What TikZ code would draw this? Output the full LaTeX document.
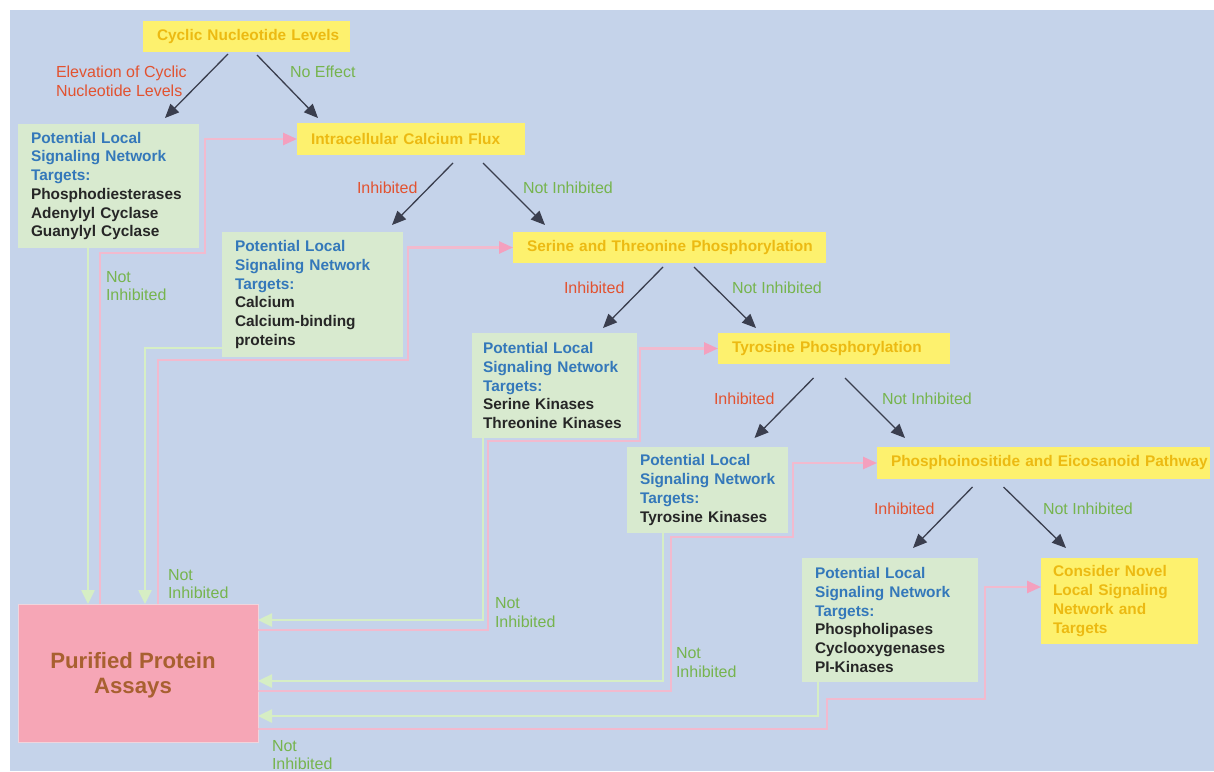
\documentclass[tikz,border=0pt]{standalone}
\usepackage{fontspec}
\setmainfont{Liberation Sans}
\usetikzlibrary{arrows.meta}
\hyphenpenalty=10000
\exhyphenpenalty=10000
\definecolor{bgc}{RGB}{197,211,234}
\definecolor{yfill}{RGB}{253,241,110}
\definecolor{ytext}{RGB}{236,186,18}
\definecolor{gfill}{RGB}{216,234,207}
\definecolor{btext}{RGB}{52,120,186}
\definecolor{ktext}{RGB}{38,38,38}
\definecolor{rlab}{RGB}{226,82,48}
\definecolor{glab}{RGB}{118,180,78}
\definecolor{pfill}{RGB}{246,166,182}
\definecolor{pedge}{RGB}{240,212,220}
\definecolor{ptext}{RGB}{168,96,48}
\definecolor{plinec}{RGB}{242,186,206}
\definecolor{ptipc}{RGB}{244,160,190}
\definecolor{glinec}{RGB}{214,238,196}
\definecolor{darkc}{RGB}{58,62,78}
\begin{document}
\begin{tikzpicture}[x=1pt,y=-1pt,
  every node/.style={outer sep=0pt},
  ybox/.style={fill=yfill, anchor=north west, inner xsep=14pt, inner ysep=0pt, align=left,
    font=\bfseries\fontsize{15.4}{18.7}\selectfont, text=ytext},
  gbox/.style={fill=gfill, anchor=north west, inner xsep=13pt, inner ysep=0pt, align=left,
    font=\bfseries\fontsize{15.4}{18.7}\selectfont, text=ktext},
  lab/.style={anchor=west, inner sep=0pt, align=left, font=\fontsize{16}{18.7}\selectfont},
  redlab/.style={lab, text=rlab},
  greenlab/.style={lab, text=glab},
  darr/.style={draw=darkc, line width=1.3pt, -{Triangle[length=14pt,width=12pt]}},
  gcon/.style={draw=glinec, line width=2.5pt, -{Triangle[length=14pt,width=13pt]}},
  pcon/.style={draw=plinec, line width=2.5pt, -{Triangle[length=14pt,width=12pt,color=ptipc]}}
]
\useasboundingbox (0,0) rectangle (1214,771);
\fill[white] (0,0) rectangle (1214,771);
\fill[bgc] (10,10) rectangle (1214,771);

% yellow decision boxes
\node[ybox, minimum width=207pt, minimum height=31pt, text width=179pt] (Cyc) at (143,21) {\mbox{Cyclic Nucleotide Levels}};
\node[ybox, minimum width=228pt, minimum height=32pt, text width=200pt] (F1) at (297,123) {\mbox{Intracellular Calcium Flux}};
\node[ybox, minimum width=313pt, minimum height=31pt, text width=285pt] (F2) at (513,232) {\mbox{Serine and Threonine Phosphorylation}};
\node[ybox, minimum width=232pt, minimum height=31pt, text width=204pt] (F3) at (718,333) {\mbox{Tyrosine Phosphorylation}};
\node[ybox, minimum width=333pt, minimum height=32pt, text width=305pt] (F4) at (877,447) {\mbox{Phosphoinositide and Eicosanoid Pathway}};
\node[ybox, inner xsep=12pt, minimum width=157pt, minimum height=86pt, text width=133pt] (N) at (1041,558)
  {\mbox{Consider Novel}\\\mbox{Local Signaling}\\\mbox{Network and}\\Targets};

% green target boxes
\node[gbox, minimum width=181pt, minimum height=124pt, text width=155pt] (A) at (18,124)
  {\textcolor{btext}{\mbox{Potential Local}}\\\textcolor{btext}{\mbox{Signaling Network}}\\\textcolor{btext}{Targets:}\\\mbox{Phosphodiesterases}\\\mbox{Adenylyl Cyclase}\\\mbox{Guanylyl Cyclase}};
\node[gbox, minimum width=181pt, minimum height=125pt, text width=155pt] (B) at (222,232)
  {\textcolor{btext}{\mbox{Potential Local}}\\\textcolor{btext}{\mbox{Signaling Network}}\\\textcolor{btext}{Targets:}\\Calcium\\\mbox{Calcium-binding}\\proteins};
\node[gbox, inner xsep=11pt, minimum width=165pt, minimum height=105pt, text width=143pt] (C) at (472,333)
  {\textcolor{btext}{\mbox{Potential Local}}\\\textcolor{btext}{\mbox{Signaling Network}}\\\textcolor{btext}{Targets:}\\\mbox{Serine Kinases}\\\mbox{Threonine Kinases}};
\node[gbox, inner xsep=13pt, minimum width=161pt, minimum height=86pt, text width=135pt] (D) at (627,447)
  {\textcolor{btext}{\mbox{Potential Local}}\\\textcolor{btext}{\mbox{Signaling Network}}\\\textcolor{btext}{Targets:}\\\mbox{Tyrosine Kinases}};
\node[gbox, minimum width=176pt, minimum height=124pt, text width=150pt] (E) at (802,558)
  {\textcolor{btext}{\mbox{Potential Local}}\\\textcolor{btext}{\mbox{Signaling Network}}\\\textcolor{btext}{Targets:}\\\mbox{Phospholipases}\\\mbox{Cyclooxygenases}\\\mbox{PI-Kinases}};

% purified protein assays
\node[fill=pfill, draw=pedge, line width=1pt, anchor=north west, minimum width=240pt, minimum height=138pt, inner sep=0pt] (P) at (18,604) {};
\node[align=center, inner sep=0pt, text=ptext, font=\bfseries\fontsize{22.2}{25}\selectfont] (Ptxt) at (133,675) {Purified Protein\\Assays};

% dark decision arrows
\draw[darr] ([shift={(-18.5,2)}]Cyc.south) -- ([shift={(56.5,-6)}]A.north);
\draw[darr] ([shift={(10.5,3)}]Cyc.south) -- ([shift={(-93,-5)}]F1.north);
\draw[darr] ([shift={(42,8)}]F1.south) -- ([shift={(79.5,-7)}]B.north);
\draw[darr] ([shift={(72,8)}]F1.south) -- ([shift={(-124.5,-7)}]F2.north);
\draw[darr] ([shift={(-6.5,4)}]F2.south) -- ([shift={(48.5,-5)}]C.north);
\draw[darr] ([shift={(24.5,4)}]F2.south) -- ([shift={(-78,-5)}]F3.north);
\draw[darr] ([shift={(-20.5,14)}]F3.south) -- ([shift={(47,-9)}]D.north);
\draw[darr] ([shift={(11,14)}]F3.south) -- ([shift={(-138.5,-9)}]F4.north);
\draw[darr] ([shift={(-71,8)}]F4.south) -- ([shift={(23,-10)}]E.north);
\draw[darr] ([shift={(-40,8)}]F4.south) -- ([shift={(-53.5,-10)}]N.north);

% decision labels
\node[redlab] (l1) at (56,81.5) {Elevation of Cyclic\\Nucleotide Levels};
\node[greenlab] (l2) at (290,72) {No Effect};
\node[redlab] (l3) at (357,188) {Inhibited};
\node[greenlab] (l4) at (523,188) {Not Inhibited};
\node[redlab] (l5) at (564,288) {Inhibited};
\node[greenlab] (l6) at (732,288) {Not Inhibited};
\node[redlab] (l7) at (714,399) {Inhibited};
\node[greenlab] (l8) at (882,399) {Not Inhibited};
\node[redlab] (l9) at (874,509) {Inhibited};
\node[greenlab] (l10) at (1043,509) {Not Inhibited};

% not-inhibited return connectors (green)
\draw[gcon] (88,0|-A.south) -- (88,0|-P.north);
\draw[gcon] (B.west|-0,348) -- (145,348) -- (145,0|-P.north);
\draw[gcon] (483,0|-C.south) -- (483,620) -- (P.east|-0,620);
\draw[gcon] (663,0|-D.south) -- (663,681) -- (P.east|-0,681);
\draw[gcon] (818,0|-E.south) -- (818,716) -- (P.east|-0,716);

% onward connectors (pink)
\draw[pcon] (100,0|-P.north) -- (100,253) -- (205,253) -- (205,0|-F1.west) -- (F1.west);
\draw[pcon] (158,0|-P.north) -- (158,360) -- (408,360) -- (408,0|-F2.west) -- (F2.west);
\draw[pcon] (P.east|-0,630) -- (488,630) -- (488,441) -- (640,441) -- (640,0|-F3.west) -- (F3.west);
\draw[pcon] (P.east|-0,691) -- (671,691) -- (671,537) -- (793,537) -- (793,0|-F4.west) -- (F4.west);
\draw[pcon] (P.east|-0,729) -- (827,729) -- (827,699) -- (985,699) -- (985,587) -- (N.west|-0,587);

% not inhibited labels
\node[greenlab] (n1) at (106,286) {Not\\Inhibited};
\node[greenlab] (n2) at (168,584) {Not\\Inhibited};
\node[greenlab] (n3) at (495,612.5) {Not\\Inhibited};
\node[greenlab] (n4) at (676,662.5) {Not\\Inhibited};
\node[greenlab] (n5) at (272,755) {Not\\Inhibited};
\end{tikzpicture}
\end{document}
